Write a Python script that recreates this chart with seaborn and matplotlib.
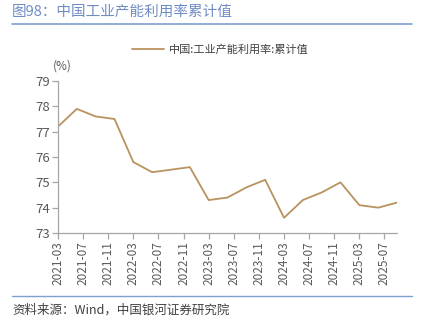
import matplotlib
matplotlib.use("Agg")
import matplotlib.pyplot as plt
import seaborn as sns
import pandas as pd
from matplotlib.lines import Line2D

dates = ["2021-03", "2021-06", "2021-09", "2021-12",
         "2022-03", "2022-06", "2022-09", "2022-12",
         "2023-03", "2023-06", "2023-09", "2023-12",
         "2024-03", "2024-06", "2024-09", "2024-12",
         "2025-03", "2025-06", "2025-09"]
values = [77.2, 77.9, 77.6, 77.5,
          75.8, 75.4, 75.5, 75.6,
          74.3, 74.4, 74.8, 75.1,
          73.6, 74.3, 74.6, 75.0,
          74.1, 74.0, 74.2]
tick_labels = ["2021-03", "2021-07", "2021-11", "2022-03", "2022-07", "2022-11",
               "2023-03", "2023-07", "2023-11", "2024-03", "2024-07", "2024-11",
               "2025-03", "2025-07"]
series_name = "中国:工业产能利用率:累计值"

def month_index(s):
    y, m = s.split("-")
    return (int(y) - 2021) * 12 + int(m) - 3

df = pd.DataFrame({"t": [month_index(d) for d in dates], "v": values})

sns.set_style("white")
plt.rcParams["font.family"] = ["Noto Sans CJK SC", "DejaVu Sans"]
plt.rcParams["font.weight"] = "light"

fig = plt.figure(figsize=(4.22, 3.25), dpi=100)
ax = fig.add_axes([58/422, 1-233/325, (397-58)/422, (233-81)/325])

line_color = "#b8925f"
sns.lineplot(data=df, x="t", y="v", ax=ax, color=line_color, linewidth=1.3, legend=False)

ax.set_xlim(df["t"].min(), df["t"].max())
ax.set_ylim(73, 79)
ax.set_yticks(range(73, 80))
ax.set_xticks([month_index(t) for t in tick_labels])
ax.set_xticklabels(tick_labels, rotation=90)
ax.set_xlabel("")
ax.set_ylabel("")

for s in ["top", "right"]:
    ax.spines[s].set_visible(False)
for s in ["left", "bottom"]:
    ax.spines[s].set_color("#a6a6a6")
    ax.spines[s].set_linewidth(0.9)
ax.tick_params(axis="both", direction="out", length=4, width=0.9, color="#a6a6a6",
               labelcolor="#595959", labelsize=8.5, pad=2, left=True, bottom=True)
ax.tick_params(axis="y", labelsize=9.5)

# title
fig.text(12/422, 1-12/325, "图98：中国工业产能利用率累计值", fontsize=10.5, color="#6f8cc4",
         va="center", ha="left")
fig.add_artist(Line2D([12/422, 412/422], [1-24/325, 1-24/325], color="#7f9fd0", linewidth=1.2))

# legend
handle = Line2D([], [], color=line_color, linewidth=1.3)
fig.legend([handle], [series_name], loc="center", bbox_to_anchor=(220/422, 1-50/325),
           frameon=False, fontsize=8, handlelength=2.9, handletextpad=0.4,
           labelcolor="#404040")

fig.text(62/422, 1-66/325, "(%)", fontsize=8.5, color="#595959", ha="center", va="center")

# source
fig.add_artist(Line2D([12/422, 412/422], [1-296/325, 1-296/325], color="#7f9fd0", linewidth=1.0))
fig.text(12/422, 1-310/325, "资料来源：Wind，中国银河证券研究院", fontsize=9, color="#404040",
         style="italic", ha="left", va="center")

fig.savefig("out.png", dpi=100)
